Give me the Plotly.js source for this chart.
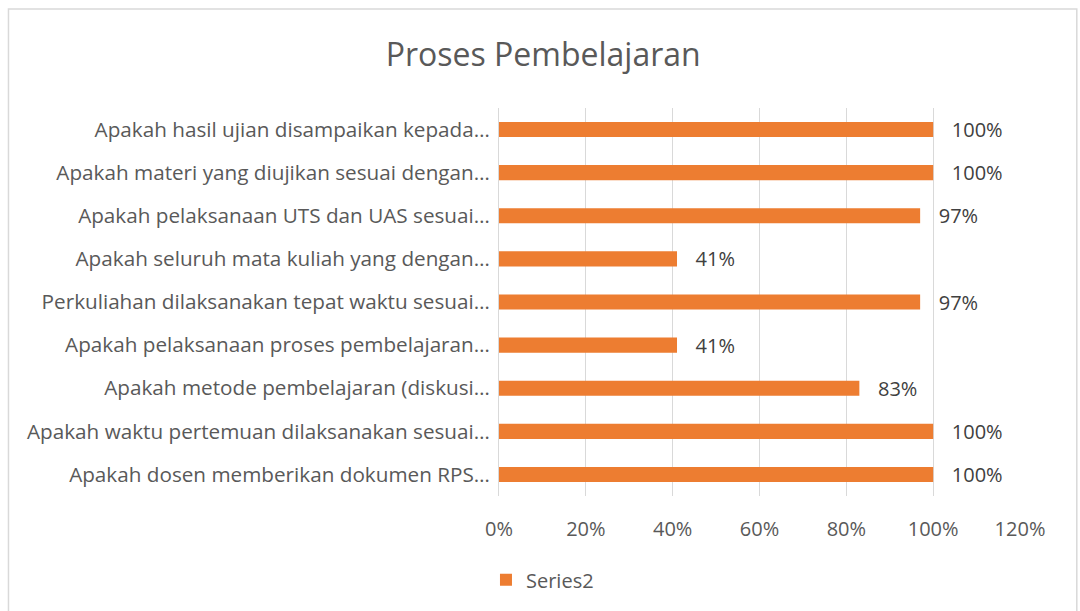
<!DOCTYPE html>
<html>
<head>
<meta charset="utf-8">
<script src="https://cdn.plot.ly/plotly-3.0.1.min.js"></script>
<style>html,body{margin:0;padding:0;background:#fff;}#chart{width:1080px;height:611px;}</style>
</head>
<body>
<div id="chart"></div>
<script>
// Categories, top to bottom as shown
const categories = [
  "Apakah hasil ujian disampaikan kepada…",
  "Apakah materi yang diujikan sesuai dengan…",
  "Apakah pelaksanaan UTS dan UAS sesuai…",
  "Apakah seluruh mata kuliah yang dengan…",
  "Perkuliahan dilaksanakan tepat waktu sesuai…",
  "Apakah pelaksanaan proses pembelajaran…",
  "Apakah metode pembelajaran (diskusi…",
  "Apakah waktu pertemuan dilaksanakan sesuai…",
  "Apakah dosen memberikan dokumen RPS…"
];
const series2 = [1.00, 1.00, 0.97, 0.41, 0.97, 0.41, 0.83, 1.00, 1.00];
const seriesName = "Series2";
const xTickVals = [0, 0.2, 0.4, 0.6, 0.8, 1.0, 1.2];
const xTickText = ["0%", "20%", "40%", "60%", "80%", "100%", "120%"];
const chartTitle = "Proses Pembelajaran";

const FONT = "'Open Sans', 'Noto Sans', sans-serif";
const trace = {
  type: "bar",
  orientation: "h",
  y: categories,
  x: series2,
  name: seriesName,
  marker: {color: "#ED7D31"},
  width: 0.35,
  text: series2.map(v => "\u00a0\u00a0\u00a0" + Math.round(v * 100) + "%"),
  textposition: "outside",
  constraintext: "none",
  cliponaxis: false,
  textfont: {family: FONT, size: 20, color: "#404040"},
  hoverinfo: "x+y"
};

const layout = {
  width: 1080, height: 611,
  margin: {l: 499, r: 60, t: 108, b: 115, autoexpand: false},
  paper_bgcolor: "#fff", plot_bgcolor: "#fff",
  font: {family: FONT, color: "#595959"},
  title: {text: chartTitle, font: {family: FONT, size: 32, color: "#595959"}, x: 0.503, xanchor: "center", y: 0.91, yanchor: "middle"},
  xaxis: {
    range: [0, 1.2], tickvals: xTickVals, ticktext: xTickText,
    showgrid: true, gridcolor: "#D9D9D9", gridwidth: 1,
    zeroline: false, showline: false, ticks: "",
    ticklabelstandoff: 19, automargin: false,
    tickfont: {family: FONT, size: 20, color: "#595959"},
    fixedrange: true
  },
  yaxis: {
    autorange: "reversed", type: "category",
    showgrid: false, zeroline: false,
    showline: true, linecolor: "#D9D9D9", linewidth: 1,
    ticks: "", ticklabelstandoff: 4, automargin: false,
    tickfont: {family: FONT, size: 20.7, color: "#595959"},
    fixedrange: true
  },
  showlegend: true,
  legend: {orientation: "h", x: -0.025, xanchor: "left", yref: "container", y: 0.051, yanchor: "middle",
           font: {family: FONT, size: 20, color: "#595959"}, itemwidth: 30},
  bargap: 0.65,
  shapes: [{type: "rect", xref: "paper", yref: "paper",
            x0: -0.9415, x1: 1.109, y0: -0.4, y1: 1.255,
            line: {color: "#D9D9D9", width: 1.5}, fillcolor: "rgba(0,0,0,0)", layer: "below"}]
};

Plotly.newPlot("chart", [trace], layout, {displayModeBar: false, staticPlot: true});
</script>
</body>
</html>
